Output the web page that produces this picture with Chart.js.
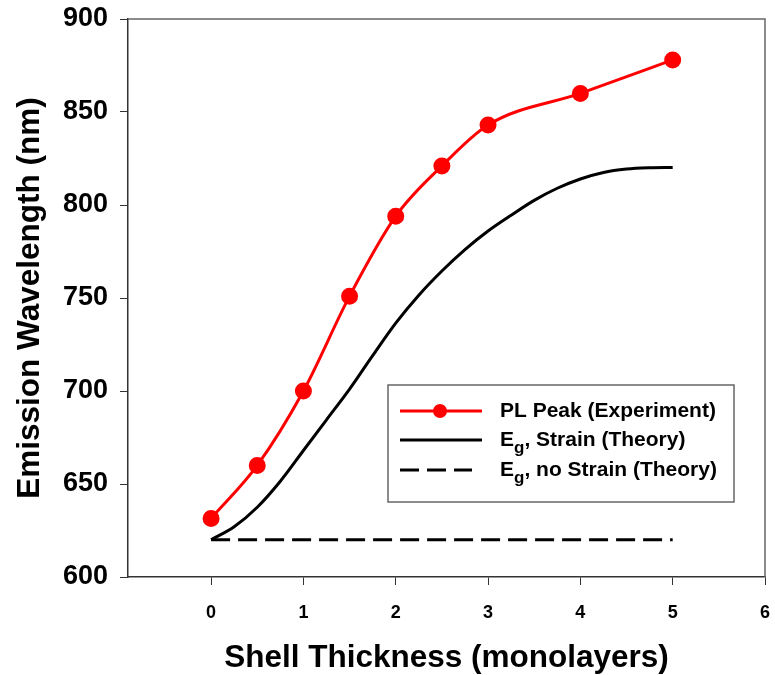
<!DOCTYPE html>
<html>
<head>
<meta charset="utf-8">
<script src="https://cdn.jsdelivr.net/npm/chart.js@4/dist/chart.umd.min.js"></script>
<style>
  html, body { margin: 0; padding: 0; background: #fff; }
  #wrap { width: 775px; height: 675px; }
</style>
</head>
<body>
<div id="wrap"><canvas id="myChart" width="775" height="675"></canvas></div>
<script>
// PL peak, experiment
var plX = [0, 0.5, 1, 1.5, 2, 2.5, 3, 4, 5];
var plY = [631.5, 660, 700, 751, 794, 821, 843, 860, 878];

// band gap with strain (theory)
var strainX = [0, 0.25, 0.5, 0.75, 1, 1.25, 1.5, 1.75, 2, 2.25, 2.5, 2.75, 3, 3.25, 3.5, 3.75, 4, 4.25, 4.5, 4.75, 5];
var strainY = [620, 627, 637.5, 651.5, 668, 684.5, 701, 719, 736.5, 751.5, 764.5, 776, 786, 794.5, 802.5, 809, 814, 817.5, 819.3, 820, 820.2];

// band gap without strain (theory)
var noStrainX = [0, 5];
var noStrainY = [620, 620];

var xTicks = [0, 1, 2, 3, 4, 5, 6];
var yTicks = [600, 650, 700, 750, 800, 850, 900];

var labels = [
    ['PL Peak (Experiment)', '', ''],
    ['E', 'g', ', Strain (Theory)'],
    ['E', 'g', ', no Strain (Theory)']
];

function pts(xs, ys) {
    var out = [];
    for (var i = 0; i < xs.length; i++) out.push({x: xs[i], y: ys[i]});
    return out;
}

var FONT = "'Liberation Sans', Arial, sans-serif";

// box around the plot + legend drawn inside
var framePlugin = {
    id: 'frame',
    afterDraw: function(chart) {
        var ctx = chart.ctx, a = chart.chartArea;
        ctx.save();
        ctx.strokeStyle = '#666';
        ctx.lineWidth = 1.5;
        ctx.beginPath();
        ctx.moveTo(a.left, a.top);
        ctx.lineTo(a.right, a.top);
        ctx.lineTo(a.right, a.bottom);
        ctx.stroke();

        // legend
        var bx = a.left + 260, by = 385, bw = 346, bh = 117;
        ctx.fillStyle = '#fff';
        ctx.fillRect(bx, by, bw, bh);
        ctx.strokeStyle = '#666';
        ctx.lineWidth = 1.5;
        ctx.strokeRect(bx, by, bw, bh);

        var rows = [26, 55, 85];
        chart.data.datasets.forEach(function(ds, i) {
            var y = by + rows[i];
            ctx.strokeStyle = ds.borderColor;
            ctx.lineWidth = ds.borderWidth;
            ctx.setLineDash(ds.borderDash || []);
            ctx.beginPath();
            ctx.moveTo(bx + 12, y);
            ctx.lineTo(bx + (ds.borderDash ? 84 : 94), y);
            ctx.stroke();
            ctx.setLineDash([]);
            if (ds.pointRadius > 0) {
                ctx.fillStyle = ds.pointBackgroundColor;
                ctx.beginPath();
                ctx.arc(bx + 52, y, ds.pointRadius, 0, Math.PI * 2);
                ctx.fill();
            }
            var parts = labels[i];
            var tx = bx + 112;
            ctx.fillStyle = '#000';
            ctx.textBaseline = 'middle';
            ctx.textAlign = 'left';
            ctx.font = 'bold 21px ' + FONT;
            ctx.fillText(parts[0], tx, y);
            tx += ctx.measureText(parts[0]).width;
            if (parts[1]) {
                ctx.font = 'bold 17px ' + FONT;
                ctx.fillText(parts[1], tx, y + 8);
                tx += ctx.measureText(parts[1]).width;
                ctx.font = 'bold 21px ' + FONT;
                ctx.fillText(parts[2], tx, y);
            }
        });
        ctx.restore();
    }
};

var ctx = document.getElementById('myChart').getContext('2d');

var chart = new Chart(ctx, {
    type: 'line',
    data: {
        datasets: [
            {
                label: labels[0].join(''),
                data: pts(plX, plY),
                borderColor: '#ff0000',
                backgroundColor: '#ff0000',
                pointBackgroundColor: '#ff0000',
                pointBorderColor: '#ff0000',
                pointRadius: 7,
                borderWidth: 3,
                tension: 0.4,
                cubicInterpolationMode: 'monotone',
                order: 0
            },
            {
                label: labels[1].join(''),
                data: pts(strainX, strainY),
                borderColor: '#000',
                backgroundColor: '#000',
                pointRadius: 0,
                borderWidth: 3,
                cubicInterpolationMode: 'monotone',
                order: 1
            },
            {
                label: labels[2].join(''),
                data: pts(noStrainX, noStrainY),
                borderColor: '#000',
                backgroundColor: '#000',
                pointRadius: 0,
                borderWidth: 3,
                borderDash: [19, 8],
                order: 2
            }
        ]
    },
    options: {
        responsive: false,
        animation: false,
        layout: { padding: { top: 19, right: 9, left: 0, bottom: 0 } },
        plugins: {
            legend: { display: false },
            tooltip: { enabled: false }
        },
        scales: {
            x: {
                type: 'linear',
                min: -0.9,
                max: 6,
                afterBuildTicks: function(scale) {
                    scale.ticks = xTicks.map(function(v) { return {value: v}; });
                },
                afterFit: function(scale) {
                    scale.height = 98;
                    scale.paddingLeft = 0;
                    scale.paddingRight = 0;
                },
                grid: { drawOnChartArea: false, drawTicks: true, tickLength: 8, color: '#333' },
                border: { display: true, color: '#333', width: 1.5 },
                ticks: {
                    color: '#000',
                    padding: 17,
                    font: { family: FONT, size: 18, weight: 'bold' }
                },
                title: {
                    display: true,
                    text: 'Shell Thickness (monolayers)',
                    color: '#000',
                    padding: { top: 0, bottom: 1 },
                    font: { family: FONT, size: 31.5, weight: 'bold', lineHeight: 1 }
                }
            },
            y: {
                type: 'linear',
                min: 600,
                max: 900,
                afterBuildTicks: function(scale) {
                    scale.ticks = yTicks.map(function(v) { return {value: v}; });
                },
                afterFit: function(scale) {
                    scale.width = 128;
                    scale.paddingTop = 0;
                    scale.paddingBottom = 0;
                },
                grid: { drawOnChartArea: false, drawTicks: true, tickLength: 8, color: '#333' },
                border: { display: true, color: '#333', width: 1.5 },
                ticks: {
                    color: '#000',
                    padding: 12,
                    font: { family: FONT, size: 27, weight: 'bold' }
                },
                title: {
                    display: true,
                    text: 'Emission Wavelength (nm)',
                    color: '#000',
                    padding: { top: 15, bottom: 0 },
                    font: { family: FONT, size: 31.5, weight: 'bold', lineHeight: 1 }
                }
            }
        }
    },
    plugins: [framePlugin]
});
</script>
</body>
</html>
